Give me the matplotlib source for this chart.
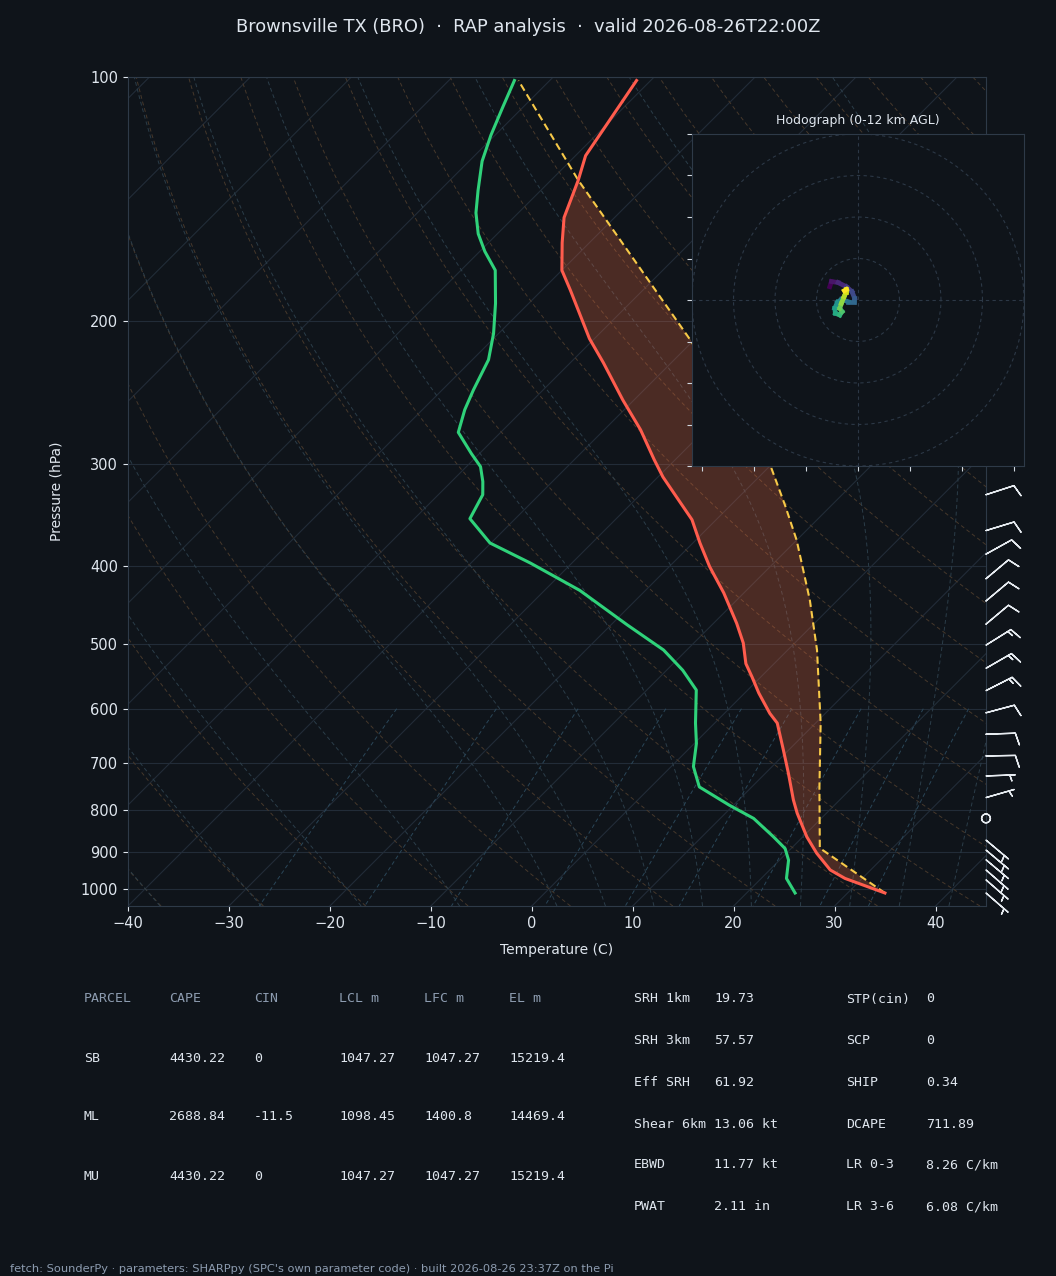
import numpy as np
import matplotlib.pyplot as plt
from matplotlib.collections import LineCollection

BG = '#0f141a'
GRID = '#222c38'
SPINE = '#2e3a48'
TXT = '#dfe6ee'
MUTED = '#8d9cb0'

# environmental temperature (hPa, degC)
pres_t = np.array([1012, 971, 948, 904, 863, 807, 777, 721, 675, 625, 608, 574, 548, 528,
                   498, 471, 432, 401, 375, 351, 329, 311, 296, 272, 250, 225, 210, 183,
                   173, 160, 149, 134, 125, 101])
temp = np.array([33.7, 28.3, 26.0, 23.0, 20.4, 17.1, 15.4, 12.3, 9.5, 6.2, 4.5, 1.4, -0.9, -2.8,
                 -5.1, -7.7, -12.0, -16.0, -19.3, -22.4, -26.2, -29.5, -32.1, -36.4, -41.1, -46.7,
                 -50.5, -57.2, -60.0, -62.7, -65.0, -67.3, -69.0, -71.4])

# dewpoint
pres_td = np.array([1012, 971, 922, 892, 863, 819, 789, 749, 707, 662, 625, 569, 538, 508,
                    473, 429, 397, 375, 350, 327, 315, 302, 291, 274, 257, 243, 223, 207,
                    190, 173, 164, 156, 147, 138, 127, 118, 109, 101])
dewp = np.array([24.8, 22.5, 20.9, 19.4, 17.1, 13.3, 9.6, 4.8, 2.2, 0.2, -1.9, -5.1, -8.4, -12.3,
                 -18.4, -26.5, -34.1, -40.1, -44.5, -45.6, -46.9, -48.6, -50.8, -54.2, -55.8,
                 -56.9, -58.4, -60.5, -63.3, -66.6, -69.5, -71.9, -74.2, -76.2, -78.7, -80.4,
                 -82.0, -83.5])

# surface-based parcel
pres_parcel = np.array([1012, 891, 749, 625, 508, 441, 372, 337, 301, 210, 134, 101])
temp_parcel = np.array([33.7, 22.8, 16.7, 10.5, 2.9, -2.75, -10.0, -14.6, -20.0, -40.6, -67.3, -83.1])

# wind barbs (direction from, knots)
barb_pres = np.array([327, 362, 387, 415, 442, 472, 501, 535, 570, 607, 645, 686, 726, 772,
                      819, 871, 896, 921, 948, 975, 1012])
barb_dir = np.array([72, 73, 61, 50, 50, 50, 58, 60, 63, 75, 88, 89, 88, 74,
                     0, 130, 130, 130, 131, 131, 131])
barb_kt = np.array([10, 10, 10, 10, 10, 10, 15, 15, 15, 10, 10, 10, 5, 5,
                    0, 5, 5, 5, 5, 5, 5])

# hodograph trace (kt)
hodo_u = np.array([-13.6, -12.8, -9.6, -5.6, -2.9, -1.6, -1.9, -4.8, -8.0, -9.9, -11.2, -10.9,
                   -8.8, -7.7, -8.8, -8.0, -6.7, -5.6, -5.6, -6.6])
hodo_v = np.array([6.4, 8.9, 8.4, 6.4, 4.0, 0.8, -0.8, -0.8, 0.3, -1.1, -4.0, -6.4,
                   -7.2, -5.6, -4.0, -1.6, 1.6, 4.0, 5.1, 4.5])

title_txt = 'Brownsville TX (BRO)  \u00b7  RAP analysis  \u00b7  valid 2026-08-26T22:00Z'
footer_txt = ("fetch: SounderPy \u00b7 parameters: SHARPpy (SPC's own parameter code) \u00b7 "
              "built 2026-08-26 23:37Z on the Pi")

parcel_cols = ['PARCEL', 'CAPE', 'CIN', 'LCL m', 'LFC m', 'EL m']
parcel_rows = [['SB', '4430.22', '0', '1047.27', '1047.27', '15219.4'],
               ['ML', '2688.84', '-11.5', '1098.45', '1400.8', '14469.4'],
               ['MU', '4430.22', '0', '1047.27', '1047.27', '15219.4']]
kin_names = ['SRH 1km', 'SRH 3km', 'Eff SRH', 'Shear 6km', 'EBWD', 'PWAT']
kin_vals = ['19.73', '57.57', '61.92', '13.06 kt', '11.77 kt', '2.11 in']
idx_names = ['STP(cin)', 'SCP', 'SHIP', 'DCAPE', 'LR 0-3', 'LR 3-6']
idx_vals = ['0', '0', '0.34', '711.89', '8.26 C/km', '6.08 C/km']

W, H = 1056, 1276
fig = plt.figure(figsize=(W / 100, H / 100), dpi=100, facecolor=BG)

# skew-T axes
x0, x1, y0, y1 = 128, 986, 77, 906
ax = fig.add_axes([x0 / W, 1 - y1 / H, (x1 - x0) / W, (y1 - y0) / H])
ax.set_facecolor(BG)
ax.set_yscale('log')
PBOT, PTOP = 1050, 100
ax.set_ylim(PBOT, PTOP)
ax.set_xlim(-40, 45)
SKEW = 85 * (y1 - y0) / (x1 - x0)


def skew(t, p):
    return t + SKEW * np.log(PBOT / p) / np.log(PBOT / PTOP)


pp = np.geomspace(PBOT, PTOP, 200)

# isotherms and isobars
for t0 in range(-130, 50, 10):
    ax.plot(skew(np.full_like(pp, t0), pp), pp, color=GRID, lw=0.8, zorder=1)
for p0 in range(100, 1001, 100):
    ax.axhline(p0, color=GRID, lw=0.8, zorder=1)

# dry adiabats
for t0 in range(-40, 246, 10):
    tk = (t0 + 273.15) * (pp / 1000.0) ** 0.2857 - 273.15
    ax.plot(skew(tk, pp), pp, color='#46382b', lw=0.7, ls=(0, (4, 3)), zorder=1)


# moist adiabats
def dtdp(tk, p):
    es = 6.112 * np.exp(17.67 * (tk - 273.15) / (tk - 29.65))
    rs = 0.622 * es / (p - es)
    num = 287.04 * tk + 2.501e6 * rs
    den = 1004.6 + (2.501e6 ** 2 * rs * 0.622 / (287.04 * tk * tk))
    return num / den / p


def moist_line(t0, plev):
    out = [t0 + 273.15]
    tk = t0 + 273.15
    for a, b in zip(plev[:-1], plev[1:]):
        h = b - a
        k1 = dtdp(tk, a)
        k2 = dtdp(tk + 0.5 * h * k1, a + 0.5 * h)
        k3 = dtdp(tk + 0.5 * h * k2, a + 0.5 * h)
        k4 = dtdp(tk + h * k3, b)
        tk = tk + h / 6 * (k1 + 2 * k2 + 2 * k3 + k4)
        out.append(tk)
    return np.array(out) - 273.15


p_up = np.geomspace(1000, PTOP, 160)
p_dn = np.geomspace(1000, PBOT, 8)
for t0 in list(range(-40, 0, 10)) + list(range(0, 56, 5)):
    tu = moist_line(t0, p_up)
    td_ = moist_line(t0, p_dn)
    pm = np.concatenate([p_dn[::-1], p_up[1:]])
    tm = np.concatenate([td_[::-1], tu[1:]])
    ax.plot(skew(tm, pm), pm, color='#2b3d49', lw=0.7, ls=(0, (4, 3)), zorder=1)

# mixing ratio lines
p_mix = np.linspace(600, PBOT, 50)
for w in [0.0004, 0.001, 0.002, 0.004, 0.007, 0.01, 0.016, 0.024, 0.032]:
    e = p_mix * w / (0.622 + w)
    le = np.log(e / 6.112)
    tdw = 243.5 * le / (17.67 - le)
    ax.plot(skew(tdw, p_mix), p_mix, color='#2a4658', lw=0.7, ls=(0, (4, 3)), zorder=1)

# CAPE shading
lg = np.linspace(np.log(pres_parcel[0]), np.log(134), 400)
xs_t = np.interp(-lg, -np.log(pres_t), skew(temp, pres_t))
xs_p = np.interp(-lg, -np.log(pres_parcel), skew(temp_parcel, pres_parcel))
ax.fill_betweenx(np.exp(lg), xs_t, xs_p, where=xs_p >= xs_t, interpolate=True,
                 color='#ff7043', alpha=0.25, lw=0, zorder=2)

ax.plot(skew(temp, pres_t), pres_t, color='#ff5c4d', lw=2.2, zorder=4)
ax.plot(skew(dewp, pres_td), pres_td, color='#2fd27a', lw=2.2, zorder=4)
ax.plot(skew(temp_parcel, pres_parcel), pres_parcel, color='#f7c948', lw=1.5,
        ls=(0, (3.5, 2)), zorder=3)

# barbs along right edge
rad = np.deg2rad(barb_dir)
bu = -barb_kt * np.sin(rad)
bv = -barb_kt * np.cos(rad)
ax.barbs(np.ones_like(barb_pres, dtype=float), barb_pres, bu, bv,
         transform=ax.get_yaxis_transform(), length=6.5, color='#e6ebf0',
         linewidth=1.0, clip_on=False, zorder=5)

ax.set_yticks(range(100, 1001, 100))
ax.set_yticklabels([str(v) for v in range(100, 1001, 100)])
ax.yaxis.set_minor_locator(plt.NullLocator())
ax.set_xticks(range(-40, 41, 10))
ax.set_xticklabels([str(v).replace('-', '\u2212') for v in range(-40, 41, 10)])
ax.tick_params(colors=TXT, labelsize=10.5, length=3.5, color=TXT)
for s in ax.spines.values():
    s.set_color(SPINE)
ax.set_ylabel('Pressure (hPa)', color=TXT, fontsize=10)
ax.set_xlabel('Temperature (C)', color=TXT, fontsize=10)
ax.yaxis.set_label_coords((63 - x0) / (x1 - x0), 0.5)
ax.xaxis.set_label_coords(0.5, (906 - 943) / (y1 - y0))

# hodograph inset
hx0, hx1, hy0, hy1 = 692, 1024, 134, 466
axh = fig.add_axes([hx0 / W, 1 - hy1 / H, (hx1 - hx0) / W, (hy1 - hy0) / H], zorder=6)
axh.set_facecolor(BG)
axh.set_xlim(-80, 80)
axh.set_ylim(-80, 80)
ang = np.linspace(0, 2 * np.pi, 300)
for r in (20, 40, 60, 80):
    axh.plot(r * np.cos(ang), r * np.sin(ang), color='#2c3846', lw=0.8, ls=(0, (3, 3)))
axh.axhline(0, color='#2c3846', lw=0.8, ls=(0, (3, 3)))
axh.axvline(0, color='#2c3846', lw=0.8, ls=(0, (3, 3)))
pts = np.column_stack([hodo_u, hodo_v])
segs = np.stack([pts[:-1], pts[1:]], axis=1)
lc = LineCollection(segs, cmap='viridis', linewidths=3.4, capstyle='projecting')
lc.set_array(np.arange(len(segs)))
axh.add_collection(lc)
axh.set_xticks(range(-75, 76, 25))
axh.set_yticks(range(-80, 81, 20))
axh.set_xticklabels([])
axh.set_yticklabels([])
axh.tick_params(color='#d0d8e0', length=3.5)
for s in axh.spines.values():
    s.set_color(SPINE)
axh.set_title('Hodograph (0-12 km AGL)', color=TXT, fontsize=9, pad=7)

fig.text(0.5, 1 - 27 / H, title_txt, ha='center', va='center', color=TXT, fontsize=12.9)

# parameter tables
mono = 'DejaVu Sans Mono'
col_x = [84, 169, 254, 339, 424, 509]
for cx, name in zip(col_x, parcel_cols):
    fig.text(cx / W, 1 - 999 / H, name, family=mono, fontsize=9.5, color=MUTED, va='center')
for ry, row in zip([1058, 1117, 1176], parcel_rows):
    for cx, val in zip(col_x, row):
        fig.text(cx / W, 1 - ry / H, val, family=mono, fontsize=9.5, color=TXT, va='center')

row_y = [999, 1041, 1082, 1124, 1165, 1207]
for ry, n1, v1, n2, v2 in zip(row_y, kin_names, kin_vals, idx_names, idx_vals):
    fig.text(634 / W, 1 - ry / H, n1, family=mono, fontsize=9.5, color=TXT, va='center')
    fig.text(714 / W, 1 - ry / H, v1, family=mono, fontsize=9.5, color=TXT, va='center')
    fig.text(846 / W, 1 - ry / H, n2, family=mono, fontsize=9.5, color=TXT, va='center')
    fig.text(926 / W, 1 - ry / H, v2, family=mono, fontsize=9.5, color=TXT, va='center')

fig.text(10 / W, 1 - 1269 / H, footer_txt, fontsize=8.2, color=MUTED, va='center')

fig.savefig('out.png', dpi=100, facecolor=BG)
